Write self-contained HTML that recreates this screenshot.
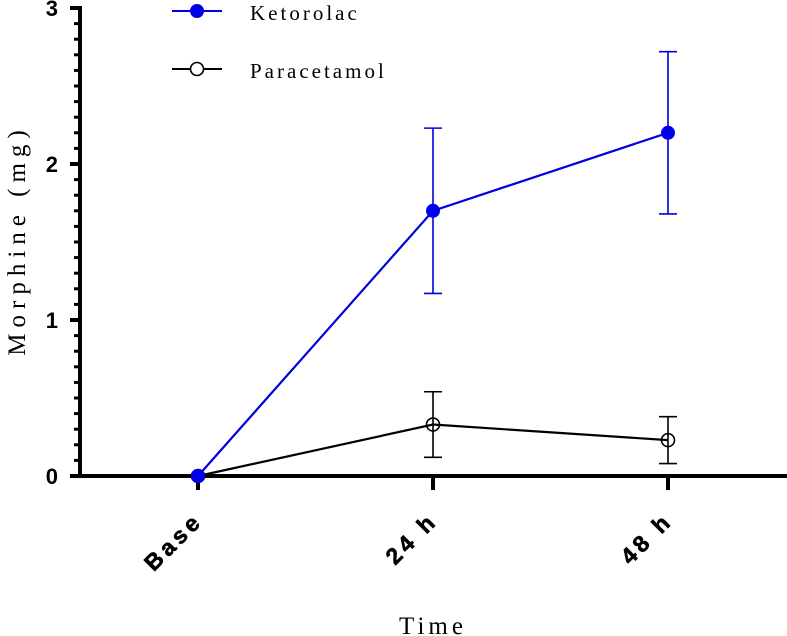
<!DOCTYPE html>
<html><head><meta charset="utf-8"><style>
html,body{margin:0;padding:0;background:#fff;width:787px;height:636px;overflow:hidden}
</style></head><body>
<svg id="chart" width="787" height="636" xmlns="http://www.w3.org/2000/svg">
<g id="axes"></g>
<g id="series"></g>
<g id="legend">
 <line x1="172" y1="11" x2="222" y2="11" stroke="#0000e0" stroke-width="2"/>
 <circle cx="197" cy="11" r="7" fill="#0000ee"/>
 <text x="250" y="20" font-family="Liberation Serif, serif" font-size="21" letter-spacing="3">Ketorolac</text>
 <line x1="172" y1="69" x2="222" y2="69" stroke="#000" stroke-width="2"/>
 <circle cx="197" cy="69" r="6.5" fill="#fff" stroke="#000" stroke-width="1.6"/>
 <text x="250" y="78" font-family="Liberation Serif, serif" font-size="21" letter-spacing="3">Paracetamol</text>
</g>
<text x="433" y="634" text-anchor="middle" font-family="Liberation Serif, serif" font-size="25" letter-spacing="4">Time</text>
<text transform="translate(25,240) rotate(-90)" text-anchor="middle" font-family="Liberation Serif, serif" font-size="25" letter-spacing="6">Morphine (mg)</text>
</svg>
<script>
const categories=["Base","24 h","48 h"];
const ketorolac=[0,1.7,2.2];
const ketorolacErr=[0,0.53,0.52];
const paracetamol=[0,0.33,0.23];
const paracetamolErr=[0,0.21,0.15];
const yTicks=[0,1,2,3];
const NS="http://www.w3.org/2000/svg";
const X0=80,Y0=476,PPU=156;
function xs(i){return 198+i*235;}
function ys(v){return Y0-v*PPU;}
function mk(tag,attrs,parent){const e=document.createElementNS(NS,tag);for(const k in attrs)e.setAttribute(k,attrs[k]);parent.appendChild(e);return e;}
const axes=document.getElementById('axes'),series=document.getElementById('series');
let e=mk('line',{x1:X0,y1:ys(3)-2,x2:X0,y2:Y0+2,stroke:'#000','stroke-width':4},axes);


e=mk('line',{x1:X0-2,y1:Y0,x2:787,y2:Y0,stroke:'#000','stroke-width':4},axes);


for(let k=0;k<=30;k++){
 const v=k/10,major=k%10===0;
 mk('line',{x1:major?X0-10:X0-6,y1:ys(v),x2:X0,y2:ys(v),stroke:'#000','stroke-width':major?4:3},axes);
}
yTicks.forEach(v=>{
 const t=mk('text',{x:X0-22,y:ys(v)+8,'text-anchor':'end','font-family':'Liberation Sans, sans-serif','font-size':22,'font-weight':'bold'},axes);
 t.textContent=v;
 
 
});
categories.forEach((c,i)=>{
 mk('line',{x1:xs(i),y1:Y0,x2:xs(i),y2:Y0+14,stroke:'#000','stroke-width':4},axes);
 const t=mk('text',{transform:`translate(${xs(i)+6},${Y0+46}) rotate(-45)`,'text-anchor':'end','font-family':'Liberation Sans, sans-serif','font-size':23,'font-weight':'bold','letter-spacing':4,stroke:'#000','stroke-width':0.6},axes);
 t.textContent=c;
 
 
});
function drawSeries(vals,errs,color,filled,name){
 const g=mk('g',{},series);
 
 
 const p=mk('polyline',{points:vals.map((v,i)=>xs(i)+','+ys(v)).join(' '),fill:'none',stroke:color,'stroke-width':2.2},g);
 
 
 vals.forEach((v,i)=>{
  if(errs[i]>0){
   const hi=ys(v+errs[i]),lo=ys(v-errs[i]),x=xs(i);
   const eb=mk('path',{d:`M${x},${hi}V${lo}M${x-9},${hi}H${x+9}M${x-9},${lo}H${x+9}`,stroke:color,'stroke-width':1.6,fill:'none'},g);
   
   
  }
  const c=mk('circle',{cx:xs(i),cy:ys(v),r:filled?7:6.5,fill:filled?'#0000ee':'none',stroke:filled?'none':color,'stroke-width':1.6},g);
  
  
 });
}
drawSeries(paracetamol,paracetamolErr,'#000',false,'paracetamol');
drawSeries(ketorolac,ketorolacErr,'#0000e0',true,'ketorolac');
</script>
</body></html>
